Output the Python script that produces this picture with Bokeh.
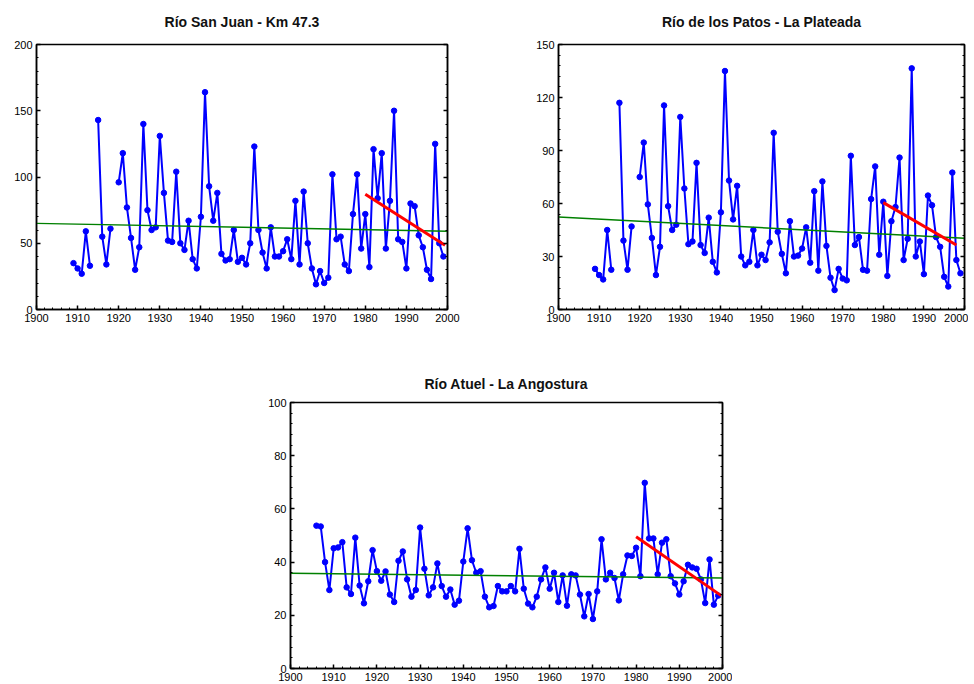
import math
from bokeh.plotting import figure
from bokeh.models import Range1d, SingleIntervalTicker, LinearAxis, Spacer
from bokeh.layouts import column, row
from bokeh.embed import file_html
from bokeh.resources import INLINE

nan = float("nan")

# ---------------- data ----------------
sj_title = "Río San Juan - Km 47.3"
sj_years = list(range(1909, 2000))
sj_flow = [35,
           31, 27, 59, 33, nan, 143, 55, 34, 61, nan,
           96, 118, 77, 54, 30, 47, 140, 75, 60, 62,
           131, 88, 52, 51, 104, 50, 45, 67, 38, 31,
           70, 164, 93, 67, 88, 42, 37, 38, 60, 36,
           39, 34, 50, 123, 60, 43, 31, 62, 40, 40,
           44, 53, 38, 82, 34, 89, 50, 31, 19, 29,
           20, 24, 102, 53, 55, 34, 29, 72, 102, 46,
           72, 32, 121, 84, 118, 46, 82, 150, 53, 51,
           31, 80, 78, 56, 47, 30, 23, 125, 50, 40]
sj_trend_x = [1900, 2000]
sj_trend_y = [65, 59]
sj_recent_x = [1980, 1999.4]
sj_recent_y = [87, 48.5]

pa_title = "Río de los Patos - La Plateada"
pa_years = list(range(1909, 2000))
pa_flow = [23,
           19.5, 17, 45, 22.5, nan, 117, 39, 22.5, 47, nan,
           75, 94.5, 59.5, 40.5, 19.5, 35.5, 115.5, 58.5, 45, 48,
           109, 68.5, 37, 38.5, 83, 36.5, 32, 52, 27, 21,
           55, 135, 73, 51, 70, 30, 25, 27, 45, 25,
           31, 28, 38, 100, 44, 31.5, 20.5, 50, 30, 30.5,
           34.5, 46.5, 26.5, 67, 22, 72.5, 36, 18, 11, 23,
           17.5, 16.5, 87, 36.5, 41, 22.5, 22, 62.5, 81, 31,
           61, 19, 50, 58, 86, 28, 40, 136.5, 30, 38.5,
           20, 64.5, 59, 41, 35.5, 18.5, 13, 77.5, 28, 20.5]
pa_trend_x = [1900, 2000]
pa_trend_y = [52.3, 40.4]
pa_recent_x = [1980, 1998]
pa_recent_y = [60.5, 36.5]

at_title = "Río Atuel - La Angostura"
at_years = list(range(1906, 2000))
at_flow = [53.7, 53.4, 40, 29.5,
           45.2, 45.5, 47.5, 30.5, 28, 49.2, 31.2, 24.5, 32.8, 44.5,
           36.6, 33, 36.5, 27.8, 25, 40.5, 44, 33.5, 27, 29.5,
           53, 37.5, 27.5, 30.5, 39.5, 31, 27, 29.7, 24, 25.5,
           40.2, 52.7, 40.7, 36, 36.6, 27, 23, 23.5, 31, 29,
           29, 31, 29, 45, 30, 24.4, 23, 27, 33.5, 38,
           30, 36, 25, 35, 23.6, 35.4, 35, 27.8, 19.6, 28,
           18.6, 29, 48.6, 33.5, 36, 34, 25.6, 35.4, 42.5, 42.3,
           45.4, 34.7, 69.8, 48.9, 48.9, 35.4, 47.3, 48.6, 34.7, 32,
           27.8, 32.8, 39, 38, 37.5, 33.5, 24.6, 41, 24, 27.4]
at_trend_x = [1900, 2000]
at_trend_y = [35.8, 34.0]
at_recent_x = [1980, 1999.7]
at_recent_y = [49.5, 27.4]

FONT = "Liberation Sans"


def style_axis(ax, ticker, labels=True):
    ax.ticker = ticker
    ax.axis_line_color = "black"
    ax.axis_line_width = 1.5
    ax.major_tick_line_color = "black"
    ax.minor_tick_line_color = "black"
    ax.major_tick_line_width = 1.5
    ax.major_tick_in = 4
    ax.major_tick_out = 0
    ax.minor_tick_in = 2
    ax.minor_tick_out = 0
    ax.major_label_text_font = FONT
    if labels:
        ax.major_label_text_color = "black"
        ax.major_label_text_font_size = "11px"
        ax.major_label_standoff = 4
    else:
        ax.major_label_text_color = None
        ax.major_label_text_font_size = "0px"
        ax.major_label_standoff = 0


def make(title, years, vals, ymax, yint, tx, ty, rx, ry,
         width, height, mbl, mbr, mbb, standoff):
    p = figure(width=width, height=height,
               x_range=Range1d(1900, 2000), y_range=Range1d(0, ymax),
               output_backend="svg", toolbar_location=None,
               min_border_left=mbl, min_border_right=mbr,
               min_border_top=0, min_border_bottom=mbb)
    p.title.text = title
    p.title.text_font = FONT
    p.title.text_font_size = "14px"
    p.title.text_font_style = "bold"
    p.title.text_color = "#111111"
    p.title.align = "center"
    p.title.vertical_align = "top"
    p.title.standoff = standoff
    p.grid.visible = False
    p.outline_line_color = "black"
    p.outline_line_width = 1.5
    p.background_fill_color = "white"
    p.border_fill_color = "white"

    style_axis(p.xaxis[0], SingleIntervalTicker(interval=10, num_minor_ticks=5))
    style_axis(p.yaxis[0], SingleIntervalTicker(interval=yint, num_minor_ticks=5))
    rax = LinearAxis()
    style_axis(rax, SingleIntervalTicker(interval=yint, num_minor_ticks=5), labels=False)
    p.add_layout(rax, "right")

    p.line(years, vals, line_color="#0000FF", line_width=2)
    p.scatter(years, vals, marker="circle", size=5.5,
              fill_color="#0000FF", line_color="#0000FF")
    p.line(tx, ty, line_color="#008000", line_width=1.5)
    p.line(rx, ry, line_color="#FF0000", line_width=3)
    return p


p1 = make(sj_title, sj_years, sj_flow, 200, 50, sj_trend_x, sj_trend_y,
          sj_recent_x, sj_recent_y,
          width=467, height=339, mbl=36, mbr=20, mbb=30, standoff=26)
p2 = make(pa_title, pa_years, pa_flow, 150, 30, pa_trend_x, pa_trend_y,
          pa_recent_x, pa_recent_y,
          width=501, height=339, mbl=91, mbr=4, mbb=30, standoff=26)
p3 = make(at_title, at_years, at_flow, 100, 20, at_trend_x, at_trend_y,
          at_recent_x, at_recent_y,
          width=482, height=318, mbl=40, mbr=10, mbb=16, standoff=18)

layout = column(row(p1, p2),
                Spacer(width=10, height=27),
                row(Spacer(width=250, height=318), p3))

open("out.html", "w").write(file_html(layout, INLINE))
